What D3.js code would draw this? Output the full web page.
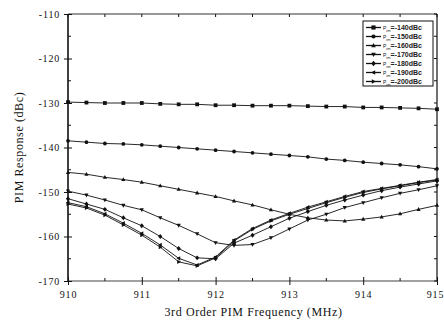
<!DOCTYPE html>
<html>
<head>
<meta charset="utf-8">
<script src="https://cdnjs.cloudflare.com/ajax/libs/d3/7.8.5/d3.min.js"></script>
<style>
  body { margin: 0; background: #fff; }
  svg { display: block; }
</style>
</head>
<body>
<svg id="chart" width="444" height="322"></svg>
<script>
const freqs = [910, 910.25, 910.5, 910.75, 911, 911.25, 911.5, 911.75, 912, 912.25, 912.5,
  912.75, 913, 913.25, 913.5, 913.75, 914, 914.25, 914.5, 914.75, 915];

const seriesNames = ['-140dBc', '-150dBc', '-160dBc', '-170dBc', '-180dBc', '-190dBc', '-200dBc'];
const seriesSymbols = ['square', 'circle', 'triUp', 'triDown', 'diamond', 'triLeft', 'triRight'];

const pim140 = [-129.8, -129.9, -130.0, -130.0, -130.0, -130.2, -130.3, -130.3, -130.5, -130.5, -130.6,
  -130.6, -130.6, -130.7, -130.8, -130.8, -131.0, -131.0, -131.1, -131.2, -131.4];
const pim150 = [-138.5, -138.8, -139.1, -139.2, -139.4, -139.7, -140.0, -140.3, -140.6, -140.9, -141.2,
  -141.5, -141.8, -142.1, -142.6, -142.9, -143.3, -143.6, -143.9, -144.3, -144.8];
const pim160 = [-145.6, -146.0, -146.7, -147.2, -147.8, -148.6, -149.4, -150.2, -151.0, -152.0, -152.9,
  -154.0, -155.0, -155.8, -156.3, -156.5, -156.1, -155.6, -154.9, -153.9, -153.0];
const pim170 = [-149.8, -150.7, -151.8, -153.0, -154.0, -155.8, -157.5, -159.4, -161.4, -162.0, -161.8,
  -160.3, -158.3, -156.3, -155.0, -153.5, -152.4, -151.3, -150.3, -149.5, -148.6];
const pim180 = [-151.5, -152.7, -153.9, -155.8, -157.6, -160.0, -162.7, -164.8, -165.0, -161.5, -159.7,
  -157.8, -155.9, -154.4, -153.0, -151.8, -150.7, -149.7, -148.9, -148.2, -147.5];
const pim190 = [-152.4, -153.3, -154.9, -157.0, -159.3, -161.9, -164.9, -166.4, -164.6, -160.8, -158.2,
  -156.3, -154.8, -153.4, -152.2, -151.0, -149.9, -149.2, -148.5, -147.8, -147.2];
const pim200 = [-152.7, -153.6, -155.2, -157.4, -159.7, -162.4, -165.7, -166.6, -164.8, -161.0, -158.4,
  -156.5, -155.0, -153.7, -152.4, -151.2, -150.1, -149.3, -148.6, -147.9, -147.3];

const allSeries = [pim140, pim150, pim160, pim170, pim180, pim190, pim200];

const xTicks = [910, 911, 912, 913, 914, 915];
const yTicks = [-110, -120, -130, -140, -150, -160, -170];

const margin = { left: 68, right: 7, top: 14, bottom: 41 };
const width = 444, height = 322;
const serif = '"Liberation Serif", "DejaVu Serif", serif';

const svg = d3.select('#chart');

const x = d3.scaleLinear().domain([910, 915]).range([margin.left, width - margin.right]);
const y = d3.scaleLinear().domain([-170, -110]).range([height - margin.bottom, margin.top]);

// symbol paths, centred on 0,0
function symbolPath(kind, r) {
  switch (kind) {
    case 'square': return `M${-r},${-r}h${2 * r}v${2 * r}h${-2 * r}Z`;
    case 'circle': return `M${-r},0a${r},${r} 0 1,0 ${2 * r},0a${r},${r} 0 1,0 ${-2 * r},0`;
    case 'triUp': return `M0,${-r * 1.2}L${r * 1.1},${r * 0.8}L${-r * 1.1},${r * 0.8}Z`;
    case 'triDown': return `M0,${r * 1.2}L${r * 1.1},${-r * 0.8}L${-r * 1.1},${-r * 0.8}Z`;
    case 'diamond': return `M0,${-r * 1.3}L${r * 1.1},0L0,${r * 1.3}L${-r * 1.1},0Z`;
    case 'triLeft': return `M${-r * 1.2},0L${r * 0.8},${-r * 1.1}L${r * 0.8},${r * 1.1}Z`;
    case 'triRight': return `M${r * 1.2},0L${-r * 0.8},${-r * 1.1}L${-r * 0.8},${r * 1.1}Z`;
  }
}

const line = d3.line().x(d => x(d[0])).y(d => y(d[1]));

const plot = svg.append('g');

allSeries.forEach((vals, i) => {
  const pts = freqs.map((f, j) => [f, vals[j]]);
  plot.append('path')
    .attr('d', line(pts))
    .attr('fill', 'none')
    .attr('stroke', '#111')
    .attr('stroke-width', 0.9);
  plot.selectAll(null)
    .data(pts)
    .join('path')
    .attr('transform', d => `translate(${x(d[0])},${y(d[1])})`)
    .attr('d', symbolPath(seriesSymbols[i], 1.9))
    .attr('fill', '#111');
});

// frame
const fr = svg.append('g');
fr.append('line').attr('x1', x(910)).attr('x2', x(915)).attr('y1', y(-110)).attr('y2', y(-110))
  .attr('stroke', '#333').attr('stroke-width', 1.2);
fr.append('line').attr('x1', x(910)).attr('x2', x(915)).attr('y1', y(-170)).attr('y2', y(-170))
  .attr('stroke', '#444').attr('stroke-width', 1.2);
fr.append('line').attr('x1', x(910)).attr('x2', x(910)).attr('y1', y(-110)).attr('y2', y(-170))
  .attr('stroke', '#111').attr('stroke-width', 1.6);
fr.append('line').attr('x1', x(915)).attr('x2', x(915)).attr('y1', y(-110)).attr('y2', y(-170))
  .attr('stroke', '#111').attr('stroke-width', 1.2);

// axes
const fmt = d => String(d);
const yAxis = d3.axisLeft(y).tickValues(yTicks).tickSize(4).tickPadding(4).tickFormat(fmt);
const gy = svg.append('g').attr('transform', `translate(${x(910)},0)`).call(yAxis);
gy.select('.domain').remove();
gy.selectAll('.tick line').attr('x2', 4).attr('x1', -4).attr('stroke', '#111');

const yMinor = d3.range(-165, -110, 10);
svg.append('g').selectAll('line').data(yMinor).join('line')
  .attr('x1', x(910)).attr('x2', x(910) + 3).attr('y1', d => y(d)).attr('y2', d => y(d))
  .attr('stroke', '#111');
svg.append('g').selectAll('line').data(yTicks.concat(yMinor)).join('line')
  .attr('x1', x(915)).attr('x2', x(915) - 3).attr('y1', d => y(d)).attr('y2', d => y(d))
  .attr('stroke', '#111');

const xAxis = d3.axisBottom(x).tickValues(xTicks).tickSize(4).tickPadding(6).tickFormat(fmt);
const gx = svg.append('g').attr('transform', `translate(0,${y(-170)})`).call(xAxis);
gx.select('.domain').remove();
gx.selectAll('.tick line').attr('y1', -4).attr('y2', 4).attr('stroke', '#111');

const xMinor = d3.range(910.5, 915, 1);
svg.append('g').selectAll('line').data(xMinor).join('line')
  .attr('x1', d => x(d)).attr('x2', d => x(d)).attr('y1', y(-170)).attr('y2', y(-170) - 3)
  .attr('stroke', '#111');
svg.append('g').selectAll('line').data(xTicks.concat(xMinor)).join('line')
  .attr('x1', d => x(d)).attr('x2', d => x(d)).attr('y1', y(-110)).attr('y2', y(-110) + 3)
  .attr('stroke', '#111');

svg.selectAll('.tick text')
  .attr('font-family', serif)
  .attr('font-size', 10)
  .attr('letter-spacing', 0.8)
  .attr('fill', '#111');
gx.selectAll('.tick text').filter(d => d === 915).attr('dx', -2);

// axis titles
svg.append('text')
  .attr('x', (x(910) + x(915)) / 2 + 1)
  .attr('y', 316)
  .attr('text-anchor', 'middle')
  .attr('font-family', serif)
  .attr('font-size', 12)
  .attr('letter-spacing', 0.6)
  .attr('fill', '#111')
  .text('3rd Order PIM Frequency (MHz)');

svg.append('text')
  .attr('transform', `translate(23,${(y(-110) + y(-170)) / 2}) rotate(-90)`)
  .attr('text-anchor', 'middle')
  .attr('font-family', serif)
  .attr('font-size', 12)
  .attr('letter-spacing', 0.6)
  .attr('fill', '#111')
  .text('PIM Response (dBc)');

// legend
const lg = svg.append('g').attr('transform', 'translate(363,21)');
lg.append('rect').attr('width', 70).attr('height', 65)
  .attr('fill', '#fff').attr('stroke', '#111').attr('stroke-width', 1);
seriesNames.forEach((name, i) => {
  const row = lg.append('g').attr('transform', `translate(0,${6.5 + i * 9})`);
  row.append('line').attr('x1', 3).attr('x2', 18).attr('stroke', '#111').attr('stroke-width', 1.3);
  row.append('path').attr('transform', 'translate(10.5,0)')
    .attr('d', symbolPath(seriesSymbols[i], 2.1)).attr('fill', '#111');
  const t = row.append('text').attr('x', 20).attr('y', 2.5)
    .attr('font-family', '"Liberation Sans", Arial, sans-serif')
    .attr('font-size', 7).attr('font-weight', 'bold').attr('fill', '#222');
  t.append('tspan').attr('font-size', 5).attr('font-weight', 'normal').text('P');
  t.append('tspan').attr('font-size', 4).attr('font-weight', 'normal').attr('dy', 2).text('im');
  t.append('tspan').attr('dy', -2).text('=' + name);
});
</script>
</body>
</html>
